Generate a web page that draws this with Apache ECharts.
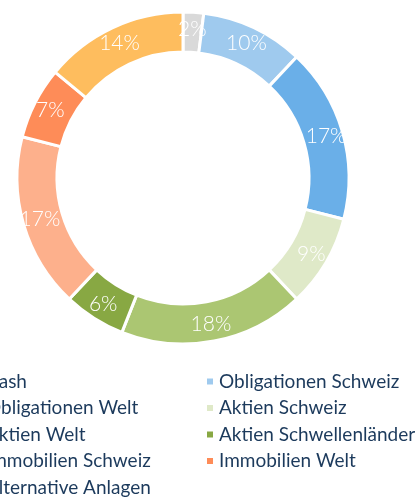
<!DOCTYPE html>
<html>
<head>
<meta charset="utf-8">
<script src="https://cdn.jsdelivr.net/npm/echarts@6/dist/echarts.min.js"></script>
<style>
  html, body { margin: 0; padding: 0; background: #fff; }
  #chart { width: 416px; height: 498px; }
</style>
</head>
<body>
<div id="chart"></div>
<script>
// Anteile in Prozent, im Uhrzeigersinn ab 12 Uhr
const categories = [
  'Cash', 'Obligationen Schweiz', 'Obligationen Welt', 'Aktien Schweiz',
  'Aktien Welt', 'Aktien Schwellenländer', 'Immobilien Schweiz',
  'Immobilien Welt', 'Alternative Anlagen'
];
const shares = [2, 10, 17, 9, 18, 6, 17, 7, 14];
const colors = [
  '#d9d9d9', '#9fcaee', '#6aafe8', '#dfe9c8', '#abc672',
  '#88a843', '#fdb08c', '#fe8c58', '#febd5e'
];

const chart = echarts.init(document.getElementById('chart'));

const legendText = { color: '#1c3a5c', fontSize: 19, fontFamily: 'Lato' };
const legendBase = {
  orient: 'vertical',
  top: 372,
  padding: 0,
  itemWidth: 8,
  itemHeight: 8,
  itemGap: 7.5,
  icon: 'rect',
  textStyle: legendText
};

chart.setOption({
  color: colors,
  legend: [
    // linke Spalte (links angeschnitten wie im Original)
    Object.assign({}, legendBase, {
      left: -28,
      data: categories.filter((c, i) => i % 2 === 0)
    }),
    // rechte Spalte
    Object.assign({}, legendBase, {
      left: 205,
      data: categories.filter((c, i) => i % 2 === 1)
    })
  ],
  series: [
    {
      type: 'pie',
      center: [183, 178],
      radius: [126, 166],
      startAngle: 90,
      clockwise: true,
      avoidLabelOverlap: false,
      itemStyle: { borderColor: '#fff', borderWidth: 3 },
      label: {
        position: 'inside',
        formatter: '{c}%',
        color: '#fff',
        fontSize: 21,
        fontFamily: 'Lato',
        fontWeight: 300
      },
      labelLine: { show: false },
      emphasis: { disabled: true },
      data: categories.map((name, i) => ({ name, value: shares[i] }))
    }
  ]
});
</script>
</body>
</html>
